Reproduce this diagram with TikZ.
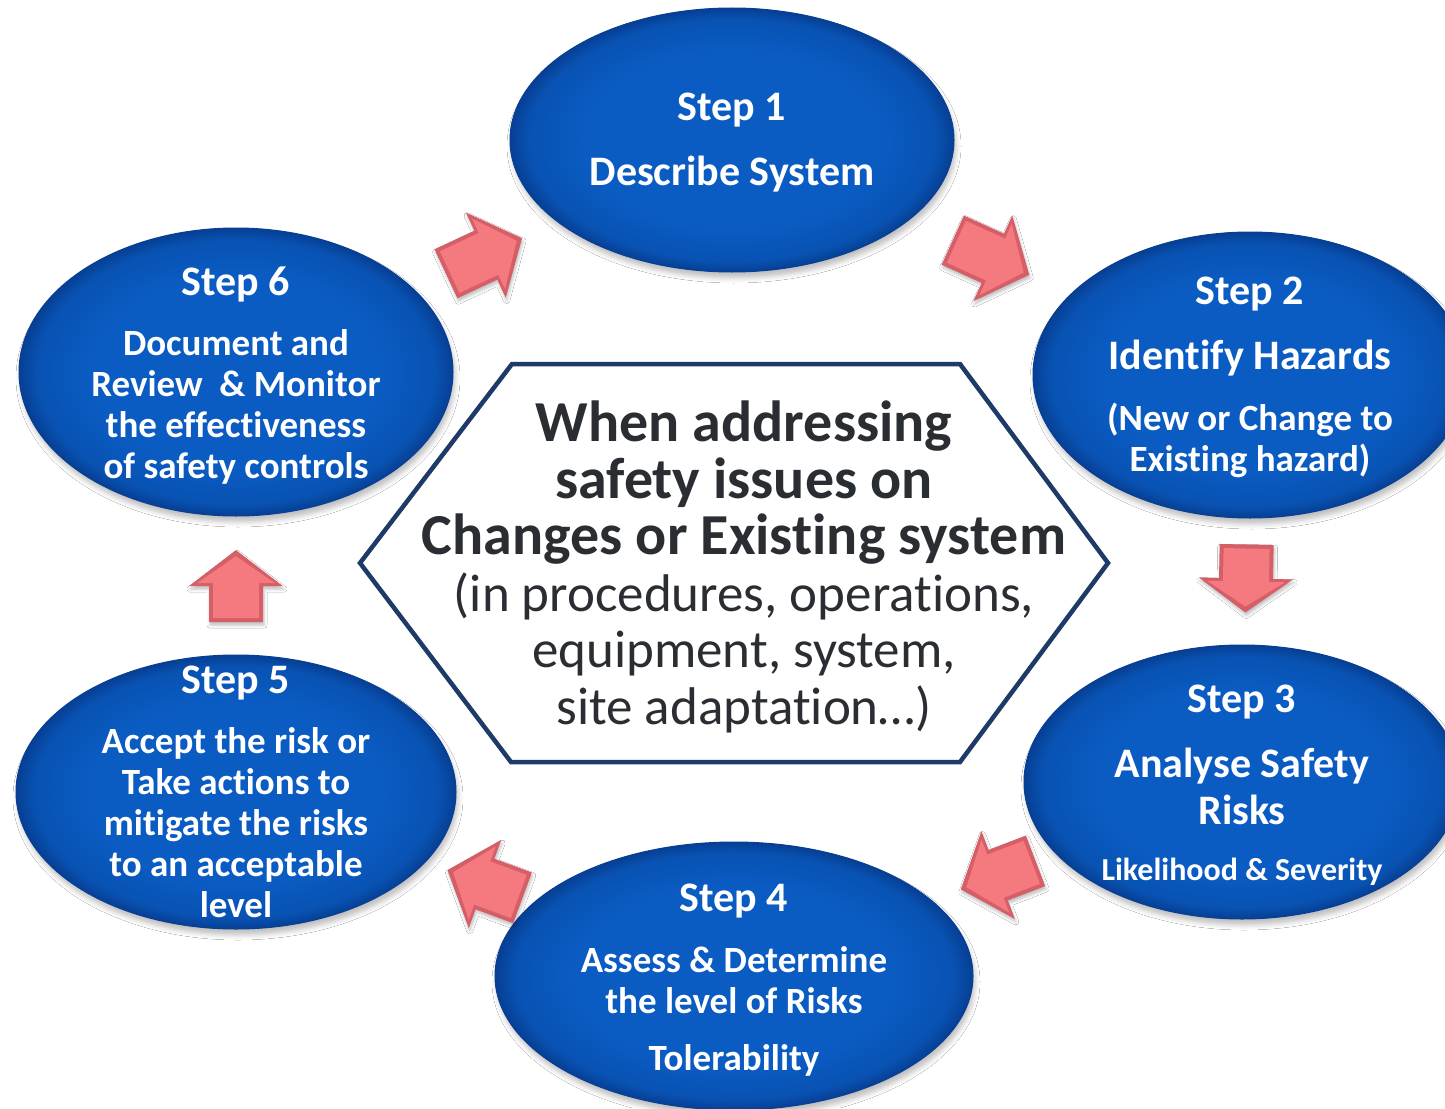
\documentclass[tikz,border=0pt]{standalone}
\usepackage{fontspec}
\setmainfont{Carlito}[Ligatures=NoCommon]
\usetikzlibrary{shapes.geometric,calc,shadows.blur}

\definecolor{stepmid}{HTML}{0A5BC2}
\definecolor{stepdark}{HTML}{0852B2}
\definecolor{steprim}{HTML}{073F94}
\definecolor{hexline}{HTML}{1E3A66}
\definecolor{hubink}{HTML}{2A2E33}
\definecolor{arrowface}{HTML}{F47A80}
\definecolor{arrowrim}{HTML}{D65E66}

% blue disc: flat body that darkens only close to the rim
\pgfdeclareradialshading{stepball}{\pgfpoint{0bp}{0bp}}{%
  color(0bp)=(stepmid); color(17bp)=(stepmid); color(23bp)=(stepdark);
  color(25bp)=(steprim); color(50bp)=(steprim)}

\newcommand\stepbig{\fontsize{42}{41}\selectfont}
\newcommand\steptiny{\fontsize{32}{41}\selectfont}
\newcommand\hubbold{\fontsize{58}{56.5}\bfseries\selectfont}
\newcommand\hubplain{\fontsize{53}{56.5}\mdseries\selectfont}

\tikzset{
  x=1pt, y=-1pt,
  stepshape/.style={ellipse, inner sep=0pt, draw=steprim, line width=1pt,
    shade, shading=stepball,
    blur shadow={shadow xshift=2pt, shadow yshift=-6pt,
                 shadow blur radius=5pt, shadow opacity=25}},
  steptext/.style={anchor=north, inner sep=0pt, align=center, text=white,
    font=\fontsize{37}{41}\bfseries\selectfont},
  hubtext/.style={anchor=north, inner sep=0pt, align=center, text=hubink,
    font=\fontsize{53}{56.5}\selectfont},
  hexedge/.style={draw=hexline, line width=4.5pt, line join=miter},
  % block arrow pointing along +x: #1 = total length, #2 = head length
  pics/blockarrow/.style 2 args={code={
    \fill[arrowrim, blur shadow={shadow xshift=1pt, shadow yshift=-3pt,
                                 shadow blur radius=3pt, shadow opacity=25}]
      (-#1/2,-27) -- (#1/2-#2,-27) -- (#1/2-#2,-47) -- (#1/2,0)
      -- (#1/2-#2,47) -- (#1/2-#2,27) -- (-#1/2,27) -- cycle;
    \fill[arrowface]
      (-#1/2+4,-23) -- (#1/2-#2+3,-23) -- (#1/2-#2+3,-39) -- (#1/2-6,0)
      -- (#1/2-#2+3,39) -- (#1/2-#2+3,23) -- (-#1/2+4,23) -- cycle;
  }}
}

\begin{document}
\begin{tikzpicture}
\useasboundingbox (0,0) rectangle (1445,1108);
\fill[white] (0,0) rectangle (1445,1108);
\clip (0,0) rectangle (1445,1108);

% central hexagon
\draw[hexedge] (360,563) -- (512,364) -- (960,364) -- (1108,563)
  -- (960,762) -- (511,762) -- cycle;
\node[hubtext] (hub) at (744,401) {%
  \hubbold When addressing\\
  \hubbold safety issues on\\
  \hubbold Changes or Existing system\\
  \hubplain (in procedures, operations,\\
  \hubplain equipment, system,\\
  \hubplain site adaptation…)};

% the six steps
\node[stepshape, minimum width=444, minimum height=264] (s1) at (732,140) {};
\node[stepshape, minimum width=434, minimum height=286] (s2) at (1250,375) {};
\node[stepshape, minimum width=436, minimum height=274] (s3) at (1242,782) {};
\node[stepshape, minimum width=478, minimum height=268] (s4) at (734,976) {};
\node[stepshape, minimum width=440, minimum height=274] (s5) at (236,792) {};
\node[stepshape, minimum width=434, minimum height=288] (s6) at (236,372) {};

\node[steptext] (t1) at (732,93) {\stepbig Step 1\\[24pt] \stepbig Describe System};
\node[steptext] (t2) at (1250,277) {\stepbig Step 2\\[24pt] \stepbig Identify Hazards\\[20pt]
  (New or Change to\\ Existing hazard)};
\node[steptext] (t3) at (1242,685) {\stepbig Step 3\\[24pt] \stepbig Analyse Safety\\[6pt]
  \stepbig Risks\\[15pt] \steptiny Likelihood \& Severity};
\node[steptext] (t4) at (734,884) {\stepbig Step 4\\[20pt] Assess \& Determine\\
  the level of Risks\\[16pt] Tolerability};
\node[steptext] (t5) at (236,666) {\stepbig Step 5\\[19pt] Accept the risk or\\
  Take actions to\\ mitigate the risks\\ to an acceptable\\ level};
\node[steptext] (t6) at (236,267) {\stepbig Step 6\\[19pt] Document and\\
  Review\ \ \& Monitor\\ the effectiveness\\ of safety controls};

% block arrows from each step to the next
\path let \p1=($(s1)-(s6)$), \n1={atan2(\y1,\x1)} in
  ($(s6)!0.5!(s1)$) pic[rotate=\n1] (a61) {blockarrow={84}{40}};
\path let \p1=($(s2)-(s1)$), \n1={atan2(\y1,\x1)} in
  ($(s1)!0.5!(s2)$) pic[rotate=\n1] (a12) {blockarrow={84}{40}};
\path let \p1=($(s3)-(s2)$), \n1={atan2(\y1,\x1)} in
  ($(s2)!0.5!(s3)$) pic[rotate=\n1] (a23) {blockarrow={68}{34}};
\path let \p1=($(s4)-(s3)$), \n1={atan2(\y1,\x1)} in
  ($(s3)!0.48!(s4)$) pic[rotate=\n1] (a34) {blockarrow={80}{40}};
\path let \p1=($(s5)-(s4)$), \n1={atan2(\y1,\x1)} in
  ($(s4)!0.5!(s5)$) pic[rotate=\n1] (a45) {blockarrow={80}{40}};
\path let \p1=($(s6)-(s5)$), \n1={atan2(\y1,\x1)} in
  ($(s5)!0.49!(s6)$) pic[rotate=\n1] (a56) {blockarrow={72}{36}};
\end{tikzpicture}
\end{document}
